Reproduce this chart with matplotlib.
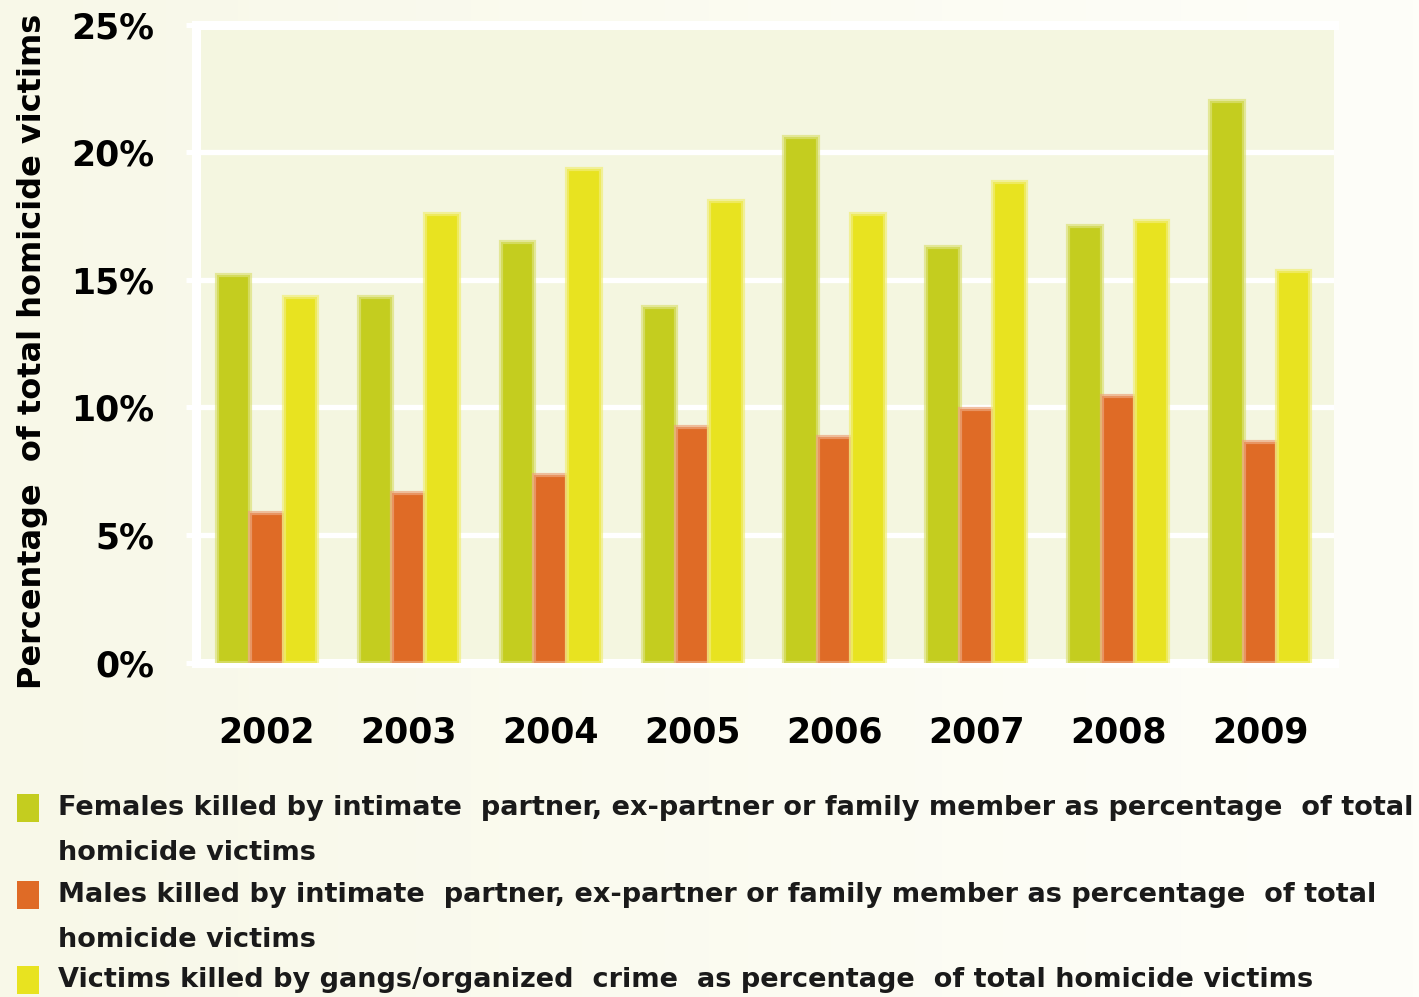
import numpy as np
import matplotlib
matplotlib.use("Agg")
import matplotlib.pyplot as plt
from matplotlib.colors import to_rgb
from matplotlib.patches import Rectangle

# Homicide victims by category, share of total homicide victims (%)
years = ["2002", "2003", "2004", "2005", "2006", "2007", "2008", "2009"]
females_family = [15.2, 14.35, 16.5, 13.95, 20.6, 16.3, 17.1, 22.0]
males_family = [5.85, 6.65, 7.35, 9.25, 8.85, 9.95, 10.45, 8.65]
gangs_crime = [14.35, 17.6, 19.35, 18.1, 17.6, 18.85, 17.3, 15.35]

series_labels = [
    ["Females killed by intimate  partner, ex-partner or family member as percentage  of total",
     "homicide victims"],
    ["Males killed by intimate  partner, ex-partner or family member as percentage  of total",
     "homicide victims"],
    ["Victims killed by gangs/organized  crime  as percentage  of total homicide victims"],
]
colors = ["#C4CD1F", "#DF6B26", "#E8E320"]
yticks = [0, 5, 10, 15, 20, 25]


def soft_edge(c, k=0.4, a=0.7):
    r, g, b = to_rgb(c)
    return (r + (1 - r) * k, g + (1 - g) * k, b + (1 - b) * k, a)


W, H = 1419, 997
fig = plt.figure(figsize=(W / 100, H / 100), dpi=100)

# faint yellow-to-white background wash
bg = fig.add_axes([0, 0, 1, 1], zorder=-10)
grad = np.linspace(0, 1, 256)[None, :]
c0 = np.array(to_rgb("#F8F8E8"))
c1 = np.array(to_rgb("#FEFEF9"))
img = c0[None, None, :] * (1 - grad[..., None]) + c1[None, None, :] * grad[..., None]
bg.imshow(img, aspect="auto", extent=[0, 1, 0, 1])
bg.axis("off")

ax = fig.add_axes([0.1381, 0.3355, 0.802, 0.6395])
ax.set_facecolor("#F4F6E0")

x = np.arange(len(years))
w = 0.235
for i, (vals, col) in enumerate(zip([females_family, males_family, gangs_crime], colors)):
    ax.bar(x + (i - 1) * w, vals, width=w, color=col,
           edgecolor=soft_edge(col), linewidth=3.0, zorder=3)

ax.set_xlim(-0.5, 7.52)
ax.set_ylim(0, 25)
ax.set_yticks(yticks)
ax.set_yticklabels([f"{v}%" for v in yticks], fontsize=25, fontweight="bold")
ax.set_xticks(x)
ax.set_xticklabels(years, fontsize=25, fontweight="bold")

ax.grid(axis="y", color="white", linewidth=3.8)
ax.set_axisbelow(True)
ax.tick_params(axis="y", direction="out", length=7, width=3.6, color="white", pad=23)
ax.tick_params(axis="x", length=0, pad=38)

ax.spines["right"].set_visible(False)
for side in ["left", "bottom", "top"]:
    ax.spines[side].set_color("white")
    ax.spines[side].set_linewidth(6.5)

fig.text(0.023, 0.648, "Percentage  of total homicide victims", rotation=90,
         ha="center", va="center", fontsize=23, fontweight="bold")

# legend drawn by hand so the swatch lines up with the first text line
row_centers = [808, 895, 980]
line_pitch = 45
for yc, lines, col in zip(row_centers, series_labels, colors):
    fig.patches.append(Rectangle((17 / W, 1 - (yc + 14) / H), 22 / W, 28 / H,
                                 transform=fig.transFigure,
                                 facecolor=col, edgecolor="none"))
    for k, line in enumerate(lines):
        fig.text(58 / W, 1 - (yc + k * line_pitch) / H, line, ha="left", va="center",
                 fontsize=19.5, fontweight="bold", color="#1a1a1a")

fig.savefig("out.png", dpi=100)
